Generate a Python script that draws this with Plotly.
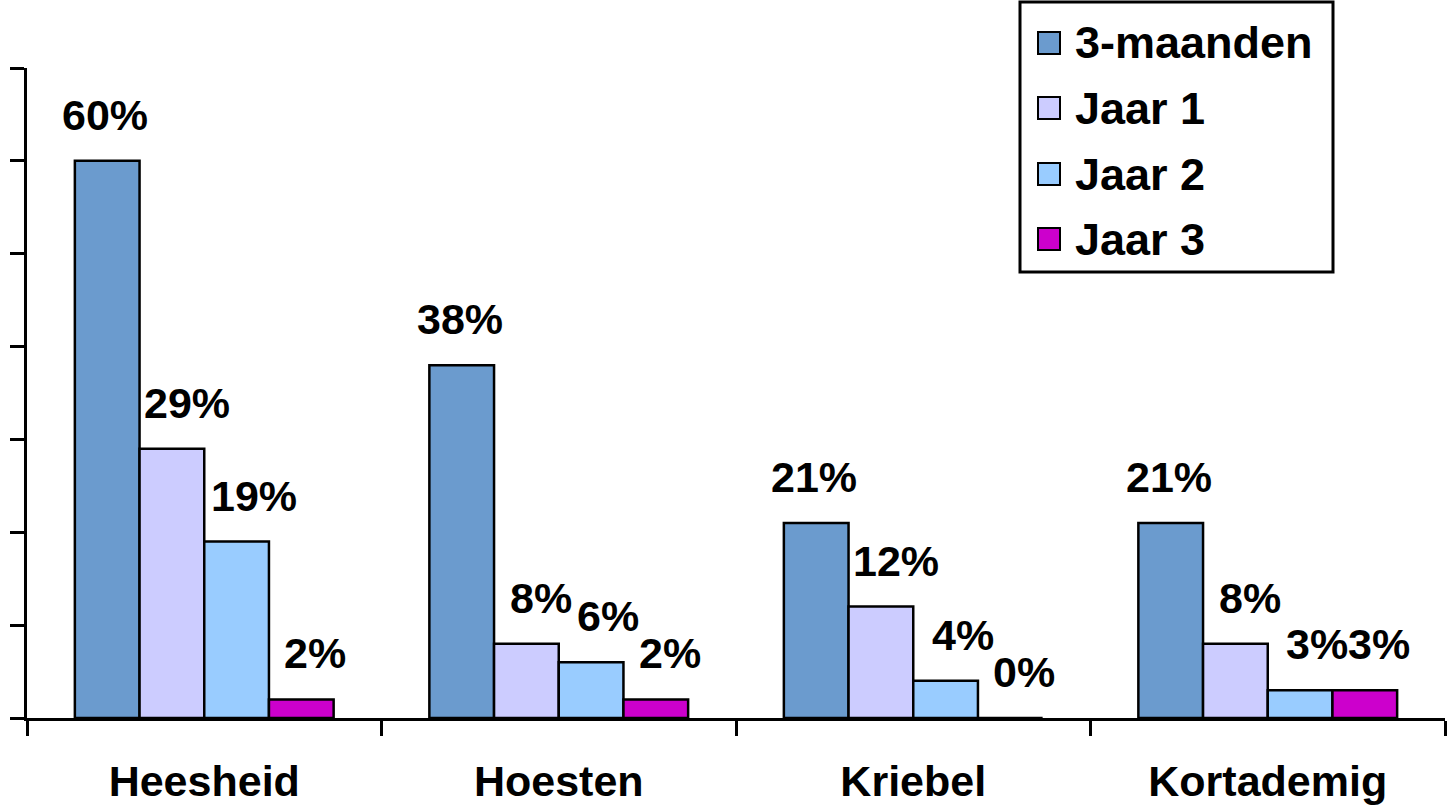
import plotly.graph_objects as go

# Chart data
categories = ["Heesheid", "Hoesten", "Kriebel", "Kortademig"]
series_names = ["3-maanden", "Jaar 1", "Jaar 2", "Jaar 3"]
maanden3 = [60, 38, 21, 21]
jaar1 = [29, 8, 12, 8]
jaar2 = [19, 6, 4, 3]
jaar3 = [2, 2, 0, 3]
series_values = [maanden3, jaar1, jaar2, jaar3]
colors = ["#6B9BCE", "#CCCCFF", "#99CCFF", "#CC00CC"]

# Page / layout geometry
W, H = 1449, 809
ML, MR, MT, MB = 27, 4, 68, 91
BARGAP = 0.27
FONT = "Liberation Sans, Arial, sans-serif"
LABEL_SIZE = 43
TICK_SIZE = 43
LEGEND_SIZE = 45
# horizontal nudge of the value labels, per series (pixels)
LABEL_XSHIFT = [-2, 15, 17, 14]


def px(x):
    """Pixel x -> paper coordinate."""
    return (x - ML) / (W - ML - MR)


def py(y):
    """Pixel y (from top) -> paper coordinate."""
    return (H - MB - y) / (H - MT - MB)


fig = go.Figure()
for name, vals, col in zip(series_names, series_values, colors):
    fig.add_trace(go.Bar(
        name=name, x=categories, y=vals,
        marker=dict(color=col, line=dict(color="black", width=2.5)),
        showlegend=False,
    ))

# Value labels above each bar
n = len(series_names)
group_w = 1 - BARGAP
bar_w = group_w / n
annotations = []
for j, vals in enumerate(series_values):
    off = -group_w / 2 + (j + 0.5) * bar_w
    for i, v in enumerate(vals):
        annotations.append(dict(
            x=i + off, y=v, xref="x", yref="y", text=f"{v}%",
            showarrow=False, yanchor="middle", yshift=46, xshift=LABEL_XSHIFT[j],
            font=dict(family=FONT, size=LABEL_SIZE, color="black", weight="bold"),
        ))

# Boxed legend
shapes = [dict(type="rect", xref="paper", yref="paper",
               x0=px(1020), x1=px(1333), y0=py(272), y1=py(2),
               line=dict(color="black", width=3), fillcolor="white", layer="above")]
row_centers = [43, 108, 174, 239]
for name, col, yc in zip(series_names, colors, row_centers):
    shapes.append(dict(type="rect", xref="paper", yref="paper",
                       x0=px(1038), x1=px(1060), y0=py(yc + 11), y1=py(yc - 11),
                       line=dict(color="black", width=2), fillcolor=col, layer="above"))
    annotations.append(dict(
        x=px(1073), y=py(yc), xref="paper", yref="paper", text=name,
        showarrow=False, xanchor="left", yanchor="middle",
        font=dict(family=FONT, size=LEGEND_SIZE, color="black", weight="bold"),
    ))

fig.update_layout(
    width=W, height=H,
    margin=dict(l=ML, r=MR, t=MT, b=MB, pad=0, autoexpand=False),
    paper_bgcolor="white", plot_bgcolor="white",
    barmode="group", bargap=BARGAP, bargroupgap=0,
    showlegend=False,
    annotations=annotations, shapes=shapes,
    font=dict(family=FONT, color="black"),
)
fig.update_xaxes(
    type="category", tickson="boundaries", ticks="outside",
    ticklen=15, tickwidth=3, tickcolor="black",
    showline=True, linewidth=3, linecolor="black",
    showgrid=False, zeroline=False, ticklabelstandoff=23, automargin=False,
    tickfont=dict(family=FONT, size=TICK_SIZE, color="black", weight="bold"),
)
fig.update_yaxes(
    range=[0, 70], dtick=10, tick0=0, ticks="outside",
    ticklen=14, tickwidth=3, tickcolor="black",
    showline=True, linewidth=3, linecolor="black",
    showgrid=False, zeroline=False, showticklabels=False, automargin=False,
)

fig.write_html("out.html")
